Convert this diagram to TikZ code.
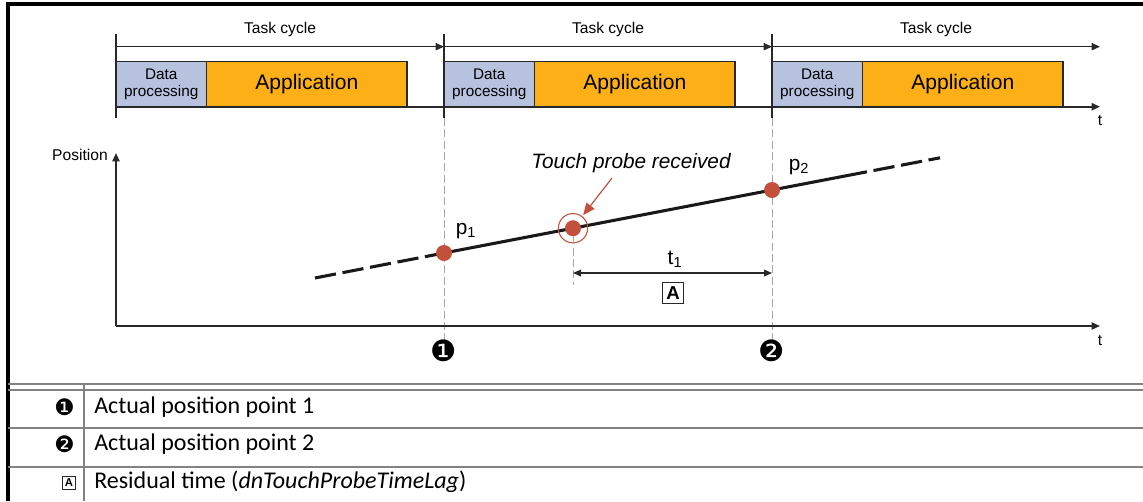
\documentclass[tikz,border=0pt]{standalone}
\usepackage{fontspec}
\setmainfont{Liberation Sans}
\newfontfamily\tpLegendFont{Carlito}
\newfontfamily\tpSymbolFont{DejaVu Sans}
\usetikzlibrary{arrows.meta,positioning}
\definecolor{tpDataFill}{RGB}{182,194,222}
\definecolor{tpAppFill}{RGB}{252,175,23}
\definecolor{tpRed}{RGB}{194,80,58}
\definecolor{tpGuideGray}{RGB}{165,165,165}
\definecolor{tpRuleGray}{RGB}{130,130,130}
\definecolor{tpDark}{RGB}{40,40,40}
\newcommand{\tpSmall}{\fontsize{11.7}{13}\selectfont}
\newcommand{\tpLarge}{\fontsize{15.6}{18}\selectfont}
\newcommand{\tpLegend}{\tpLegendFont\fontsize{18}{20}\selectfont}
\tikzset{
  axisArrow/.style={draw=tpDark, line width=1.3pt, -{Triangle[length=6.3pt,width=5.4pt]}},
  cycleArrow/.style={draw=tpDark, line width=0.9pt, -{Triangle[length=6.3pt,width=5.4pt]}},
  cycleTick/.style={draw=tpDark, line width=0.9pt},
  guideLine/.style={draw=tpGuideGray, line width=0.7pt, dash pattern=on 6pt off 2.5pt},
  dataBox/.style={draw=tpDark, line width=0.9pt, fill=tpDataFill, anchor=south west, outer sep=0pt,
    minimum width=67.9pt, minimum height=34pt, inner sep=0pt, align=center, font=\fontsize{11.5}{12.5}\selectfont},
  appBox/.style={dataBox, fill=tpAppFill, minimum width=150.4pt, font=\fontsize{15.8}{18}\selectfont},
  mainLine/.style={draw=black!90, line width=2.3pt},
  mainDash/.style={mainLine, dash pattern=on 16pt off 5pt},
  probeDot/.style={circle, fill=tpRed, minimum size=12pt, inner sep=0pt},
  probeArrow/.style={draw=tpRed, line width=0.9pt, -{Triangle[length=9pt,width=7.5pt]}},
  dimArrow/.style={draw=tpDark, line width=1pt, {Triangle[length=6pt,width=5pt]}-{Triangle[length=6pt,width=5pt]}},
  legendRule/.style={draw=tpRuleGray, line width=1.5pt},
}

\begin{document}
\begin{tikzpicture}[x=0.75pt,y=-0.75pt]
\useasboundingbox (0,0) rectangle (1143,501);
\draw[line width=2.4pt] (8,501) -- (8,4) -- (1143,4);

\foreach \n/\xx in {1/116,2/444,3/772} {
  \node[dataBox] (data\n) at (\xx,106.7) {Data\\processing};
  \node[appBox] (app\n) at (data\n.south east) {Application};
  \coordinate (cycle\n) at (\xx,46.7);
  \draw[cycleTick] (\xx,34) -- (\xx,118);
}
\coordinate (cycle4) at (1100,46.7);
\foreach \n/\m in {1/2,2/3,3/4}
  \draw[cycleArrow] (cycle\n) -- node[above=7pt, inner sep=0pt, font=\tpSmall] (taskLabel\n) {Task cycle} (cycle\m);

\coordinate (tTopEnd) at (1100,106.7);
\draw[axisArrow] (data1.south west) -- (tTopEnd);
\node[below=6.5pt of tTopEnd, inner sep=0pt, font=\tpSmall] (tTop) {t};

\draw[guideLine] (444,118) -- (444,343);
\draw[guideLine] (772,118) -- (772,343);

\coordinate (origin) at (116,326);
\coordinate (posEnd) at (116,153);
\coordinate (tBotEnd) at (1100,326);
\draw[axisArrow] (origin) -- (posEnd);
\draw[axisArrow] (origin) -- (tBotEnd);
\node[anchor=east, inner sep=0pt, font=\tpSmall] (posLabel) at (108,155) {Position};
\node[below=6.5pt of tBotEnd, inner sep=0pt, font=\tpSmall] (tBot) {t};

\coordinate (lineStart) at (315,278);
\coordinate (p1) at (444,253);
\coordinate (touch) at (573,228.2);
\coordinate (p2) at (772,190);
\coordinate (solidEnd) at (846,175.8);
\coordinate (lineEnd) at (940,157.8);
\draw[mainDash] (lineStart) -- (p1);
\draw[mainLine] (p1) -- (p2) -- (solidEnd);
\draw[mainDash] (solidEnd) -- (lineEnd);

\node[probeDot] (p1Dot) at (p1) {};
\node[probeDot] (p2Dot) at (p2) {};
\node[probeDot] (touchDot) at (touch) {};
\node[circle, draw=tpRed, line width=0.8pt, minimum size=22pt, inner sep=0pt] (touchRing) at (touch) {};

\node[font=\itshape\tpLarge] (probeLabel) at (631,163) {Touch probe received};
\coordinate (probeArrowStart) at (612,178);
\draw[probeArrow, shorten >=1pt] (probeArrowStart) -- (touchRing);

\node[font=\tpLarge] (p1Label) at (466,231) {p\textsubscript{1}};
\node[font=\tpLarge] (p2Label) at (799,167) {p\textsubscript{2}};

\coordinate (dimLeft) at (573,273);
\coordinate (dimRight) at (772,273);
\coordinate (touchGuideEnd) at (573,285);
\draw[guideLine] (touchDot.south) -- (touchGuideEnd);
\draw[dimArrow] (dimLeft) -- (dimRight);
\node[font=\tpLarge] (t1Label) at (675,259) {t\textsubscript{1}};
\node[draw=tpDark, line width=0.8pt, minimum size=15.5pt, inner sep=1pt, font=\bfseries\fontsize{14}{14}\selectfont] (markA) at (673,293) {A};

\node[font=\tpSymbolFont\fontsize{22}{22}\selectfont, inner sep=0pt] (mark1) at (444,351) {❶};
\node[font=\tpSymbolFont\fontsize{22}{22}\selectfont, inner sep=0pt] (mark2) at (772,351) {❷};

\draw[legendRule] (8,384) -- (1143,384);
\draw[legendRule] (8,390) -- (1143,390);
\draw[legendRule] (8,427.7) -- (1143,427.7);
\draw[legendRule] (8,466.7) -- (1143,466.7);
\draw[legendRule] (84,384) -- (84,501);

\node[anchor=east, inner sep=0pt, font=\tpSymbolFont\fontsize{17}{17}\selectfont] (key1) at (75,407) {❶};
\node[anchor=east, inner sep=0pt, font=\tpSymbolFont\fontsize{17}{17}\selectfont] (key2) at (75,444.5) {❷};
\node[anchor=east, draw=tpDark, line width=0.6pt, minimum size=9.8pt, inner sep=0.5pt, font=\bfseries\fontsize{8.5}{8.5}\selectfont] (key3) at (76,483) {A};
\node[anchor=base west, inner sep=0pt, font=\tpLegend] (legend1) at (94,413.3) {Actual position point 1};
\node[anchor=base west, inner sep=0pt, font=\tpLegend] (legend2) at (94,450.3) {Actual position point 2};
\node[anchor=base west, inner sep=0pt, font=\tpLegend] (legend3) at (94,488.3) {Residual time (\textit{dnTouchProbeTimeLag})};
\end{tikzpicture}
\end{document}
